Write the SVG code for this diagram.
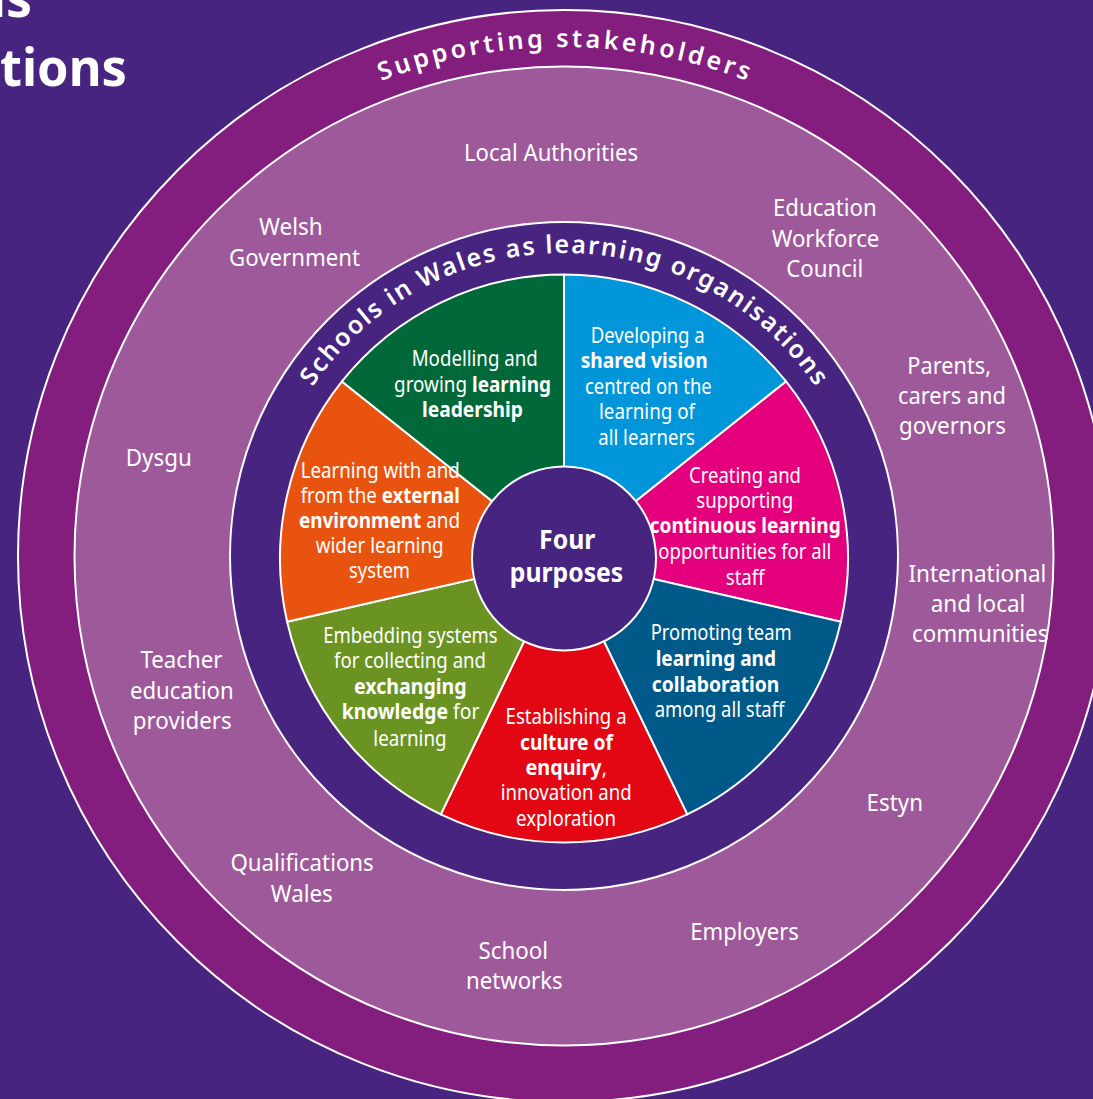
<svg xmlns="http://www.w3.org/2000/svg" xmlns:xlink="http://www.w3.org/1999/xlink" width="1093" height="1099" viewBox="0 0 1093 1099">
<style>
.t{font-family:"Noto Sans","Open Sans","DejaVu Sans",sans-serif;fill:#fff}
.s{font-size:21px}
.k{font-size:24px}
.c{font-size:27px;font-weight:700}
.b{font-weight:700}
.arc{font-size:25px;font-weight:600}
.ring{stroke:#fff;stroke-width:2}
.seg{stroke:#fff;stroke-width:2;stroke-linejoin:round}
</style>
<defs>
<path id="arcOuter" d="M55,556 A509,509 0 0 1 1073,556"/>
<path id="arcInner" d="M261,556 A303,303 0 0 1 867,556"/>
</defs>
<rect x="0" y="0" width="1093" height="1099" fill="#46247f"/>
<g id="title">
<text class="t b" x="32" y="17" font-size="52" text-anchor="end">as</text>
<text class="t b" x="0" y="86" font-size="52" textLength="127" lengthAdjust="spacingAndGlyphs">tions</text>
</g>
<g id="supporting-stakeholders-ring">
<circle class="ring" cx="564" cy="556" r="546" fill="#831d7e"/>
<text class="t arc"><textPath xlink:href="#arcOuter" href="#arcOuter" startOffset="50%" text-anchor="middle" textLength="374" lengthAdjust="spacing">Supporting stakeholders</textPath></text>
</g>
<g id="stakeholders">
<circle class="ring" cx="564" cy="556" r="489.5" fill="#9e599b"/>
<g class="t k" lengthAdjust="spacingAndGlyphs">
<text id="local-authorities" x="464" y="160.7" textLength="174" lengthAdjust="spacingAndGlyphs">Local Authorities</text>
<g id="welsh-government"><text x="259" y="235" textLength="63.7" lengthAdjust="spacingAndGlyphs">Welsh</text><text x="229" y="265.7" textLength="131" lengthAdjust="spacingAndGlyphs">Government</text></g>
<g id="education-workforce-council"><text x="773" y="215.7" textLength="103.7" lengthAdjust="spacingAndGlyphs">Education</text><text x="771.7" y="246.7" textLength="107.7" lengthAdjust="spacingAndGlyphs">Workforce</text><text x="786.3" y="276.7" textLength="77" lengthAdjust="spacingAndGlyphs">Council</text></g>
<g id="parents"><text x="907.3" y="374" textLength="83.7" lengthAdjust="spacingAndGlyphs">Parents,</text><text x="898" y="404.3" textLength="108" lengthAdjust="spacingAndGlyphs">carers and</text><text x="899" y="434.3" textLength="107" lengthAdjust="spacingAndGlyphs">governors</text></g>
<text id="dysgu" x="125.8" y="466" textLength="66" lengthAdjust="spacingAndGlyphs">Dysgu</text>
<g id="international"><text x="908.4" y="581.5" textLength="138" lengthAdjust="spacingAndGlyphs">International</text><text x="930.7" y="611.8" textLength="94.7" lengthAdjust="spacingAndGlyphs">and local</text><text x="912" y="642" textLength="136.4" lengthAdjust="spacingAndGlyphs">communities</text></g>
<g id="teacher-education"><text x="140.5" y="667.5" textLength="82" lengthAdjust="spacingAndGlyphs">Teacher</text><text x="130" y="698.7" textLength="103.7" lengthAdjust="spacingAndGlyphs">education</text><text x="132.8" y="729" textLength="99" lengthAdjust="spacingAndGlyphs">providers</text></g>
<text id="estyn" x="866.6" y="811" textLength="56.4" lengthAdjust="spacingAndGlyphs">Estyn</text>
<g id="qualifications-wales"><text x="230.4" y="871.2" textLength="143.4" lengthAdjust="spacingAndGlyphs">Qualifications</text><text x="270.8" y="901.6" textLength="62" lengthAdjust="spacingAndGlyphs">Wales</text></g>
<g id="school-networks"><text x="478.4" y="958.6" textLength="69.6" lengthAdjust="spacingAndGlyphs">School</text><text x="466" y="988.5" textLength="96.7" lengthAdjust="spacingAndGlyphs">networks</text></g>
<text id="employers" x="690.3" y="940.3" textLength="108.6" lengthAdjust="spacingAndGlyphs">Employers</text>
</g>
</g>
<g id="schools-ring">
<circle class="ring" cx="564" cy="556" r="334" fill="#46247f"/>
<text class="t arc"><textPath xlink:href="#arcInner" href="#arcInner" startOffset="50%" text-anchor="middle" textLength="593" lengthAdjust="spacing">Schools in Wales as learning organisations</textPath></text>
</g>
<g id="connectors"/>
<g id="seg-vision">
<path class="seg" fill="#0096d9" d="M564,558.5 L564,274.5 A284,284 0 0 1 786.04,381.43 Z"/>
<g class="t s">
<text x="590.7" y="343.3" textLength="114" lengthAdjust="spacingAndGlyphs">Developing a</text>
<text x="580.7" y="368.3" textLength="127" lengthAdjust="spacingAndGlyphs" class="b">shared vision</text>
<text x="585" y="394" textLength="126.7" lengthAdjust="spacingAndGlyphs">centred on the</text>
<text x="599" y="419" textLength="96" lengthAdjust="spacingAndGlyphs">learning of</text>
<text x="598.3" y="445" textLength="96.7" lengthAdjust="spacingAndGlyphs">all learners</text>
</g>
</g>
<g id="seg-continuous">
<path class="seg" fill="#e4007d" d="M564,558.5 L786.04,381.43 A284,284 0 0 1 840.88,621.7 Z"/>
<g class="t s">
<text x="689" y="483.3" textLength="112" lengthAdjust="spacingAndGlyphs">Creating and</text>
<text x="696.3" y="508.3" textLength="97" lengthAdjust="spacingAndGlyphs">supporting</text>
<text x="649.7" y="533.3" textLength="191" lengthAdjust="spacingAndGlyphs" class="b">continuous learning</text>
<text x="658.3" y="559.3" textLength="173" lengthAdjust="spacingAndGlyphs">opportunities for all</text>
<text x="725.7" y="585" textLength="39" lengthAdjust="spacingAndGlyphs">staff</text>
</g>
</g>
<g id="seg-team">
<path class="seg" fill="#005a89" d="M564,558.5 L840.88,621.7 A284,284 0 0 1 687.22,814.38 Z"/>
<g class="t s">
<text x="650.7" y="640" textLength="141" lengthAdjust="spacingAndGlyphs">Promoting team</text>
<text x="655.7" y="666" textLength="120.3" lengthAdjust="spacingAndGlyphs" class="b">learning and</text>
<text x="651.7" y="691.7" textLength="127.7" lengthAdjust="spacingAndGlyphs" class="b">collaboration</text>
<text x="654.7" y="716.7" textLength="129.7" lengthAdjust="spacingAndGlyphs">among all staff</text>
</g>
</g>
<g id="seg-enquiry">
<path class="seg" fill="#e30613" d="M564,558.5 L687.22,814.38 A284,284 0 0 1 440.78,814.38 Z"/>
<g class="t s">
<text x="505.6" y="724" textLength="121" lengthAdjust="spacingAndGlyphs">Establishing a</text>
<text x="520" y="749.5" textLength="93" lengthAdjust="spacingAndGlyphs" class="b">culture of</text>
<text x="525.5" y="775" textLength="81.5" lengthAdjust="spacingAndGlyphs"><tspan class="b">enquiry</tspan>,</text>
<text x="500.7" y="800" textLength="131" lengthAdjust="spacingAndGlyphs">innovation and</text>
<text x="516" y="825.5" textLength="100" lengthAdjust="spacingAndGlyphs">exploration</text>
</g>
</g>
<g id="seg-knowledge">
<path class="seg" fill="#6a9322" d="M564,558.5 L440.78,814.38 A284,284 0 0 1 287.12,621.7 Z"/>
<g class="t s">
<text x="323.3" y="642.7" textLength="174.4" lengthAdjust="spacingAndGlyphs">Embedding systems</text>
<text x="334" y="668.3" textLength="152" lengthAdjust="spacingAndGlyphs">for collecting and</text>
<text x="354" y="694.3" textLength="112.7" lengthAdjust="spacingAndGlyphs" class="b">exchanging</text>
<text x="341.7" y="719.3" textLength="137.7" lengthAdjust="spacingAndGlyphs"><tspan class="b">knowledge</tspan> for</text>
<text x="373.3" y="745.7" textLength="73.3" lengthAdjust="spacingAndGlyphs">learning</text>
</g>
</g>
<g id="seg-external">
<path class="seg" fill="#e8540f" d="M564,558.5 L287.12,621.7 A284,284 0 0 1 341.96,381.43 Z"/>
</g>
<g id="seg-leadership">
<path class="seg" fill="#006839" d="M564,558.5 L341.96,381.43 A284,284 0 0 1 564,274.5 Z"/>
<g class="t s">
<text x="411.7" y="365.7" textLength="126" lengthAdjust="spacingAndGlyphs">Modelling and</text>
<text x="394" y="391.7" textLength="157" lengthAdjust="spacingAndGlyphs">growing <tspan class="b">learning</tspan></text>
<text x="422" y="416.7" textLength="101" lengthAdjust="spacingAndGlyphs" class="b">leadership</text>
</g>
</g>
<g id="seg-external-text" class="t s">
<text x="300.7" y="478.3" textLength="159" lengthAdjust="spacingAndGlyphs">Learning with and</text>
<text x="300.7" y="503.3" textLength="159" lengthAdjust="spacingAndGlyphs">from the <tspan class="b">external</tspan></text>
<text x="299" y="528.3" textLength="161" lengthAdjust="spacingAndGlyphs"><tspan class="b">environment</tspan> and</text>
<text x="315.7" y="553.3" textLength="128" lengthAdjust="spacingAndGlyphs">wider learning</text>
<text x="349" y="578.3" textLength="61" lengthAdjust="spacingAndGlyphs">system</text>
</g>
<g id="center">
<circle class="ring" cx="564" cy="558.5" r="92" fill="#46247f"/>
<text class="t c" x="539" y="548.5" textLength="56.4" lengthAdjust="spacingAndGlyphs">Four</text>
<text class="t c" x="509.8" y="582" textLength="113.5" lengthAdjust="spacingAndGlyphs">purposes</text>
</g>
</svg>
